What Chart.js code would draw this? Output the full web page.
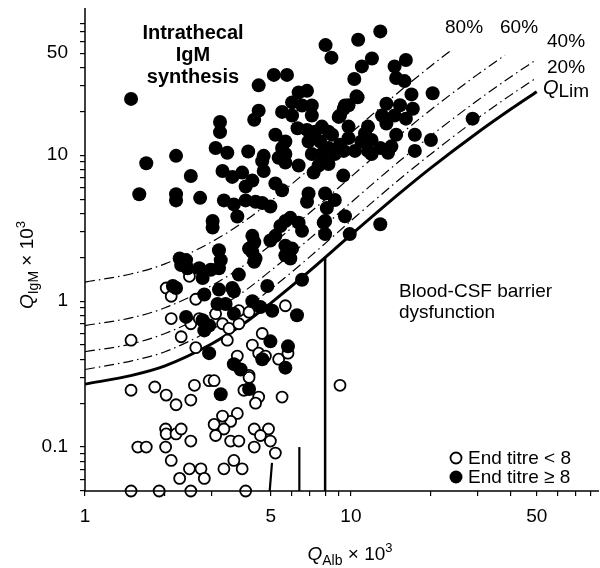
<!DOCTYPE html>
<html>
<head>
<meta charset="utf-8">
<script src="https://cdn.jsdelivr.net/npm/chart.js@4.4.0/dist/chart.umd.min.js"></script>
<style>
  html, body { margin: 0; padding: 0; background: #fff; }
  #wrap { width: 600px; height: 568px; }
</style>
</head>
<body>
<div id="wrap"><canvas id="chart"></canvas></div>
<script>
const FONT = '"Liberation Sans", Arial, Helvetica, sans-serif';

// ticks
const xTickVals = [1, 2, 3, 4, 5, 6, 7, 8, 9, 10, 20, 30, 40, 50, 60, 70, 80];
const xTickLabels = [1, 5, 10, 50];
const yTickVals = [0.05, 0.06, 0.07, 0.08, 0.09, 0.1, 0.2, 0.3, 0.4, 0.5, 0.6, 0.7, 0.8, 0.9,
  1, 2, 3, 4, 5, 6, 7, 8, 9, 10, 20, 30, 40, 50, 60, 70, 80];
const yTickLabels = [0.1, 1, 10, 50];

// reference curves (QAlb, QIgM)
const curveX = [1, 1.5, 2, 3, 4, 5, 7, 10, 15, 20, 30, 40, 50];
const qLim = [0.27, 0.31, 0.36, 0.51, 0.71, 0.97, 1.61, 2.84, 5.34, 8.18, 14.3, 20.7, 27.2];
const q20 = [0.34, 0.39, 0.45, 0.64, 0.89, 1.21, 2.01, 3.55, 6.68, 10.2, 17.9, 25.9, 34.0];
const q40 = [0.45, 0.51, 0.60, 0.85, 1.18, 1.62, 2.68, 4.73, 8.9, 13.6, 23.8, 34.5, 45.3];
const q60x = [1, 1.5, 2, 3, 4, 5, 7, 10, 15, 20, 30, 38];
const q60 = [0.68, 0.77, 0.90, 1.28, 1.78, 2.43, 4.03, 7.1, 13.4, 20.5, 35.8, 48.5];
const q80x = [1, 1.5, 2, 3, 4, 5, 7, 10, 15, 20, 24];
const q80 = [1.35, 1.54, 1.80, 2.55, 3.55, 4.85, 8.05, 14.2, 26.7, 40.9, 52.9];

// upper reference limits of QAlb (vertical bars)
const limitBars = [
  [[4.95, 0.05], [5.05, 0.078]],
  [[6.4, 0.05], [6.4, 0.1]],
  [[8, 0.05], [8, 1.99]]
];

// patients, end titre >= 8  [QAlb, QIgM]
const titreHigh = [
  [1.49, 24.3], [4.5, 30.1], [5.13, 35.5], [5.75, 35.5], [4.5, 20.2], [4.33, 17.5],
  [3.22, 16.9], [3.22, 14.4], [3.1, 11.2], [3.43, 10.4], [2.2, 9.9], [4.11, 10.6],
  [4.7, 9.9], [5.67, 12.4], [5.67, 10.2], [12.9, 70.5], [10.65, 61.8], [8.03, 56.8],
  [8.45, 46.6], [12.0, 46], [11.0, 40.6], [10.3, 33.3], [14.6, 40.6], [16.1, 44.9],
  [14.8, 33.8], [15.9, 32.2], [20.3, 26.6], [16.9, 26.1], [20, 12.7], [17.1, 20.8],
  [16.1, 17.8], [13.6, 22.5], [15.3, 22], [14.6, 18.7], [13.1, 18.7], [13.6, 16.5],
  [10.5, 25.3], [9.8, 22], [9.4, 20.8], [9.0, 18.3], [5.51, 19.8], [6.36, 26.9],
  [6.84, 27.6], [6.01, 23.0], [6.55, 21.9], [7.13, 21.9], [7.13, 18.7], [6.01, 18.7],
  [6.3, 15.3], [6.84, 14.9], [7.78, 15.7], [8.24, 14.5], [8.5, 13.8], [9.5, 21.9],
  [9.1, 18.7], [9.8, 15.7], [10.6, 24.9], [11.6, 15.7], [11.3, 14.1], [11.96, 12.7],
  [10.95, 12.4], [9.8, 13.1], [9.1, 11.8], [9.4, 10.7], [10.35, 10.7], [11.6, 10.7],
  [12.9, 11.2], [14.2, 11.5], [14.8, 13.8], [17.4, 13.8], [17.4, 10.7], [5.51, 11.2],
  [5.2, 13.8], [7.34, 14.5], [6.93, 12.4], [7.67, 12.4], [8.24, 11.2], [7.78, 10.2],
  [8.7, 10.2], [28.7, 17.8], [1.7, 8.8], [2.5, 7.2], [1.6, 5.4], [2.2, 5.4],
  [2.2, 4.9], [2.71, 5.1], [3.33, 4.9], [3.63, 4.6], [3.74, 3.8], [4.02, 4.9],
  [4.38, 4.8], [4.64, 4.7], [4.98, 4.45], [3.29, 7.8], [3.58, 7.1], [3.9, 7.6],
  [4.26, 6.7], [4.02, 6.1], [4.7, 7.8], [5.2, 6.4], [5.51, 5.75], [4.64, 9.1],
  [5.35, 9.6], [3.02, 3.54], [3.02, 3.19], [4.26, 2.8], [4.33, 2.53], [4.14, 2.29],
  [4.98, 2.6], [5.2, 2.8], [5.67, 3.54], [5.43, 3.27], [3.19, 2.23], [3.24, 1.91],
  [3.19, 1.68], [4.26, 2.17], [4.33, 1.86], [2.4, 1.91], [2.3, 1.77], [2.69, 1.68],
  [2.77, 1.44], [2.97, 1.64], [3.79, 1.52], [4.85, 1.27], [5.67, 2.06], [5.67, 8.9],
  [6.36, 8.5], [7.13, 10.2], [8.0, 10.7], [7.24, 7.6], [8.24, 8.7], [7.56, 8.5],
  [9.36, 7.25], [11.96, 10.2], [13.8, 10.4], [6.93, 5.47], [6.84, 4.8], [8.0, 5.47],
  [8.7, 4.93], [8.12, 4.34], [8.0, 3.54], [9.5, 3.82], [5.92, 3.72], [6.36, 3.45],
  [6.55, 3.03], [5.67, 2.4], [6.01, 2.29], [7.9, 3.45], [8.0, 2.88], [9.9, 2.88],
  [12.9, 3.36], [6.55, 1.4], [5.92, 1.96], [2.14, 1.27], [2.2, 1.23], [2.4, 0.78],
  [2.81, 1.11], [3.19, 1.2], [3.63, 1.17], [4.26, 1.0], [4.38, 1.96], [3.58, 1.23],
  [3.15, 0.955], [3.38, 0.955], [3.63, 0.82], [4.57, 0.91], [5.06, 0.86], [6.27, 0.8],
  [2.77, 0.74], [2.81, 0.63], [2.93, 0.68], [4.98, 0.53], [5.8, 0.49], [4.64, 0.4],
  [5.67, 0.35], [3.63, 0.37], [3.85, 0.34], [2.93, 0.44], [4.14, 0.25], [3.24, 0.23],
  [2.43, 1.68], [2.27, 1.96]
];

// patients, end titre < 8
const titreLow = [
  [1.49, 0.54], [1.49, 0.245], [1.83, 0.258], [2.02, 0.227], [2.02, 1.23], [2.11, 1.08],
  [2.11, 0.76], [2.3, 0.57], [2.47, 1.48], [2.61, 1.03], [2.5, 0.7], [2.61, 0.48],
  [2.58, 0.265], [2.5, 0.21], [2.69, 0.76], [3.1, 0.82], [3.29, 0.7], [3.48, 0.65],
  [3.43, 0.54], [3.79, 0.86], [4.14, 0.84], [3.79, 0.7], [5.67, 0.93], [4.64, 0.6],
  [4.26, 0.5], [4.5, 0.44], [4.77, 0.42], [5.35, 0.4], [5.8, 0.44], [3.74, 0.42],
  [4.14, 0.31], [9.1, 0.265], [2.93, 0.285], [3.06, 0.285], [3.96, 0.245], [4.5, 0.22],
  [5.51, 0.22], [2.2, 0.195], [4.14, 0.3], [4.38, 0.2], [3.74, 0.17], [3.53, 0.15],
  [3.29, 0.163], [3.06, 0.143], [3.33, 0.133], [3.1, 0.12], [3.53, 0.11], [3.79, 0.11],
  [4.33, 0.133], [4.9, 0.133], [4.57, 0.12], [4.98, 0.11], [4.33, 0.1], [5.2, 0.091],
  [2.01, 0.133], [2.02, 0.123], [2.2, 0.123], [2.3, 0.133], [2.5, 0.11], [2.01, 0.1],
  [1.58, 0.1], [1.7, 0.1], [2.11, 0.081], [2.47, 0.071], [2.73, 0.071], [2.27, 0.061],
  [2.81, 0.061], [3.33, 0.071], [3.63, 0.081], [3.9, 0.071], [1.49, 0.05], [1.9, 0.05],
  [2.5, 0.05], [4.02, 0.05]
];

const toPts = (xs, ys) => xs.map((x, i) => ({ x, y: ys[i] }));
const pairPts = (arr) => arr.map(([x, y]) => ({ x, y }));

const DASHDOT = [10, 4, 1.5, 4];

function curve(label, pts, width, dash) {
  return {
    type: "line",
    label,
    data: pts,
    borderColor: "#000",
    borderWidth: width,
    borderDash: dash,
    pointRadius: 0,
    fill: false,
    cubicInterpolationMode: "monotone",
    clip: false
  };
}

function drawRich(ctx, parts, x, y, align) {
  let w = 0;
  parts.forEach((p) => {
    ctx.font = p.font;
    w += ctx.measureText(p.t).width;
  });
  let cx = align === "center" ? x - w / 2 : x;
  parts.forEach((p) => {
    ctx.font = p.font;
    ctx.fillText(p.t, cx, y + (p.dy || 0));
    cx += ctx.measureText(p.t).width;
  });
}

const annotations = {
  id: "annotations",
  afterDatasetsDraw(chart) {
    const ctx = chart.ctx;
    const area = chart.chartArea;
    ctx.save();
    ctx.fillStyle = "#000";
    ctx.strokeStyle = "#000";

    // axis lines
    ctx.lineWidth = 1.5;
    ctx.beginPath();
    ctx.moveTo(area.left, 8);
    ctx.lineTo(area.left, area.bottom);
    ctx.lineTo(599, area.bottom);
    ctx.stroke();

    ctx.textBaseline = "alphabetic";

    // region labels
    ctx.font = `bold 20px ${FONT}`;
    ctx.textAlign = "center";
    ctx.fillText("Intrathecal", 193, 39);
    ctx.fillText("IgM", 193, 61);
    ctx.fillText("synthesis", 193, 83);
    ctx.textAlign = "left";

    ctx.font = `19px ${FONT}`;
    ctx.fillText("Blood-CSF barrier", 399, 297);
    ctx.fillText("dysfunction", 399, 318);

    // curve labels
    ctx.fillText("80%", 445, 33);
    ctx.fillText("60%", 500, 33);
    ctx.fillText("40%", 547, 47);
    ctx.fillText("20%", 547, 73);
    drawRich(ctx, [
      { t: "Q", font: `italic 20px ${FONT}` },
      { t: "Lim", font: `19px ${FONT}`, dy: 3 }
    ], 543, 94, "left");

    // legend
    ctx.lineWidth = 1.8;
    ctx.beginPath();
    ctx.arc(456, 458, 5.5, 0, Math.PI * 2);
    ctx.fillStyle = "#fff";
    ctx.fill();
    ctx.stroke();
    ctx.fillStyle = "#000";
    ctx.beginPath();
    ctx.arc(456, 477, 6.5, 0, Math.PI * 2);
    ctx.fill();
    ctx.font = `19px ${FONT}`;
    ctx.textBaseline = "middle";
    ctx.fillText("End titre < 8", 468, 459);
    ctx.fillText("End titre \u2265 8", 468, 478);
    ctx.textBaseline = "alphabetic";

    // axis titles
    drawRich(ctx, [
      { t: "Q", font: `italic 19px ${FONT}` },
      { t: "Alb", font: `14px ${FONT}`, dy: 5 },
      { t: " \u00d7 10", font: `19px ${FONT}` },
      { t: "3", font: `13px ${FONT}`, dy: -8 }
    ], 350, 560, "center");

    ctx.translate(33, 265);
    ctx.rotate(-Math.PI / 2);
    drawRich(ctx, [
      { t: "Q", font: `italic 19px ${FONT}` },
      { t: "IgM", font: `14px ${FONT}`, dy: 5 },
      { t: " \u00d7 10", font: `19px ${FONT}` },
      { t: "3", font: `13px ${FONT}`, dy: -8 }
    ], 0, 0, "center");
    ctx.restore();
  }
};

const ctx = document.getElementById("chart");

new Chart(ctx, {
  type: "scatter",
  data: {
    datasets: [
      {
        label: "End titre \u2265 8",
        data: pairPts(titreHigh),
        backgroundColor: "#000",
        borderColor: "#000",
        borderWidth: 0,
        pointRadius: 7,
        clip: false
      },
      {
        label: "End titre < 8",
        data: pairPts(titreLow),
        backgroundColor: "#fff",
        borderColor: "#000",
        borderWidth: 1.8,
        pointRadius: 5.5,
        clip: false
      },
      curve("QLim", toPts(curveX, qLim), 3, []),
      curve("20%", toPts(curveX, q20), 1.2, DASHDOT),
      curve("40%", toPts(curveX, q40), 1.2, DASHDOT),
      curve("60%", toPts(q60x, q60), 1.2, DASHDOT),
      curve("80%", toPts(q80x, q80), 1.2, DASHDOT),
      ...limitBars.map((bar, i) => ({
        type: "line",
        label: "limit " + i,
        data: pairPts(bar),
        borderColor: "#000",
        borderWidth: i === 2 ? 2.5 : 2.2,
        pointRadius: 0,
        clip: false
      }))
    ]
  },
  options: {
    responsive: true,
    maintainAspectRatio: false,
    animation: false,
    events: [],
    layout: { padding: { top: 13, right: 6, left: 0, bottom: 0 } },
    plugins: {
      legend: { display: false },
      tooltip: { enabled: false }
    },
    scales: {
      x: {
        type: "logarithmic",
        min: 1,
        max: 80,
        afterBuildTicks: (axis) => {
          axis.ticks = xTickVals.map((v) => ({ value: v }));
        },
        afterFit: (axis) => {
          axis.height = 77;
        },
        border: { display: false },
        grid: {
          drawOnChartArea: false,
          drawTicks: true,
          tickLength: 5,
          color: "#000",
          lineWidth: 1.2
        },
        ticks: {
          autoSkip: false,
          maxRotation: 0,
          padding: 9,
          color: "#000",
          font: { family: FONT, size: 19 },
          callback: (v) => (xTickLabels.includes(v) ? String(v) : "")
        }
      },
      y: {
        type: "logarithmic",
        min: 0.05,
        max: 80,
        afterBuildTicks: (axis) => {
          axis.ticks = yTickVals.map((v) => ({ value: v }));
        },
        afterFit: (axis) => {
          axis.width = 85;
        },
        border: { display: false },
        grid: {
          drawOnChartArea: false,
          drawTicks: true,
          tickLength: 5,
          color: "#000",
          lineWidth: 1.2
        },
        ticks: {
          autoSkip: false,
          padding: 12,
          color: "#000",
          font: { family: FONT, size: 19 },
          callback: (v) => (yTickLabels.includes(v) ? String(v) : "")
        }
      }
    }
  },
  plugins: [annotations]
});
</script>
</body>
</html>
